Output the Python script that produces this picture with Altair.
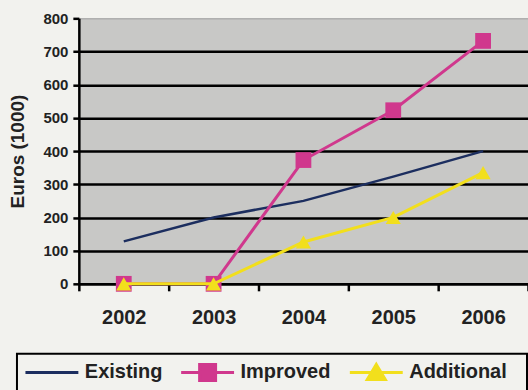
import altair as alt
import pandas as pd

years = ["2002", "2003", "2004", "2005", "2006"]
existing = [128, 200, 250, 323, 400]
improved = [0, 0, 373, 523, 732]
additional = [0, 0, 126, 200, 335]

series_names = ["Existing", "Improved", "Additional"]
series_colors = ["#1c2e5f", "#d0388d", "#f2df1c"]
legend_shapes = [
    "M0,-1.3M0,1.3M-1,0H4.3",
    "M0,-1.3M0,1.3M-1,0H4.3M0.85,-0.8H2.45V0.8H0.85Z",
    "M0,-1.3M0,1.3M15.4,0M-1,0H4.3M1.65,-0.8L2.55,0.7H0.75Z",
]

rows = []
for name, vals in zip(series_names, [existing, improved, additional]):
    for y, v in zip(years, vals):
        rows.append({"Year": y, "Value": v, "Series": name})
df = pd.DataFrame(rows)

FONT = "Liberation Sans"

x_enc = alt.X(
    "Year:O",
    scale=alt.Scale(type="band", paddingInner=0, paddingOuter=0, domain=years),
    axis=alt.Axis(
        title=None, labelAngle=0, labelFontSize=20, labelFontWeight="bold",
        labelFont=FONT, labelColor="#222222", domainColor="black", domainWidth=2.5,
        tickColor="black", tickWidth=2.5, tickSize=7, tickBand="extent",
        labelPadding=17, grid=False,
    ),
)
y_enc = alt.Y(
    "Value:Q",
    scale=alt.Scale(domain=[0, 800], nice=False),
    axis=alt.Axis(
        title="Euros (1000)", titleFont=FONT, titleFontSize=19, titleFontWeight="bold",
        titleColor="#222222", titleX=-61, titleY=133, titleAlign="center",
        titleBaseline="middle",
        values=[0, 100, 200, 300, 400, 500, 600, 700, 800],
        labelFontSize=15, labelFontWeight="bold", labelFont=FONT, labelColor="#222222",
        labelPadding=5, domainColor="black", domainWidth=2.5, tickColor="black",
        tickWidth=2.5, tickSize=6, grid=True,
        gridColor={"condition": {"test": "datum.value == 800", "value": "#a0a0a0"}, "value": "black"},
        gridWidth={"condition": {"test": "datum.value == 800", "value": 1}, "value": 2.5},
    ),
)

base = alt.Chart(df)

def line_layer(name, color, width):
    return base.transform_filter(alt.datum.Series == name).mark_line(
        color=color, strokeWidth=width
    ).encode(x=x_enc, y=y_enc)

l_exist = line_layer("Existing", series_colors[0], 2.5)
l_impr = line_layer("Improved", series_colors[1], 3)
p_impr = base.transform_filter(alt.datum.Series == "Improved").mark_point(
    shape="square", filled=True, color=series_colors[1], size=250, opacity=1
).encode(x=x_enc, y=y_enc)
l_add = line_layer("Additional", series_colors[2], 3)
p_add = base.transform_filter(alt.datum.Series == "Additional").mark_point(
    shape="triangle-up", filled=True, color=series_colors[2], size=230, opacity=1
).encode(x=x_enc, y=y_enc)

legend_layer = base.transform_filter("false").mark_point(filled=True, opacity=1).encode(
    x=x_enc,
    y=y_enc,
    stroke=alt.Stroke("Series:N", scale=alt.Scale(domain=series_names, range=series_colors),
                      legend=alt.Legend(title=None)),
    fill=alt.Fill("Series:N", scale=alt.Scale(domain=series_names, range=series_colors),
                  legend=alt.Legend(title=None)),
    shape=alt.Shape("Series:N", scale=alt.Scale(domain=series_names, range=legend_shapes),
                    legend=alt.Legend(title=None)),
)

chart = alt.layer(l_exist, l_impr, p_impr, l_add, p_add, legend_layer).properties(
    width=450, height=266,
    padding={"left": 79, "top": 18, "right": 0, "bottom": 106},
    autosize=alt.AutoSizeParams(type="none"),
    background="#f2f2ee",
).configure_view(
    fill="#c8c8c6", stroke=None
).configure_legend(
    orient="none", legendX=-62, legendY=336, direction="horizontal",
    strokeColor="black", strokeWidth=2, padding=7, fillColor="#f2f2ee",
    labelFont=FONT, labelFontSize=20, labelFontWeight="bold", labelColor="#222222",
    symbolSize=400, symbolStrokeWidth=3, labelOffset=38, columnPadding=12,
    symbolOpacity=1,
)

chart.save("out.html", embed_options={"renderer": "svg", "actions": False})
